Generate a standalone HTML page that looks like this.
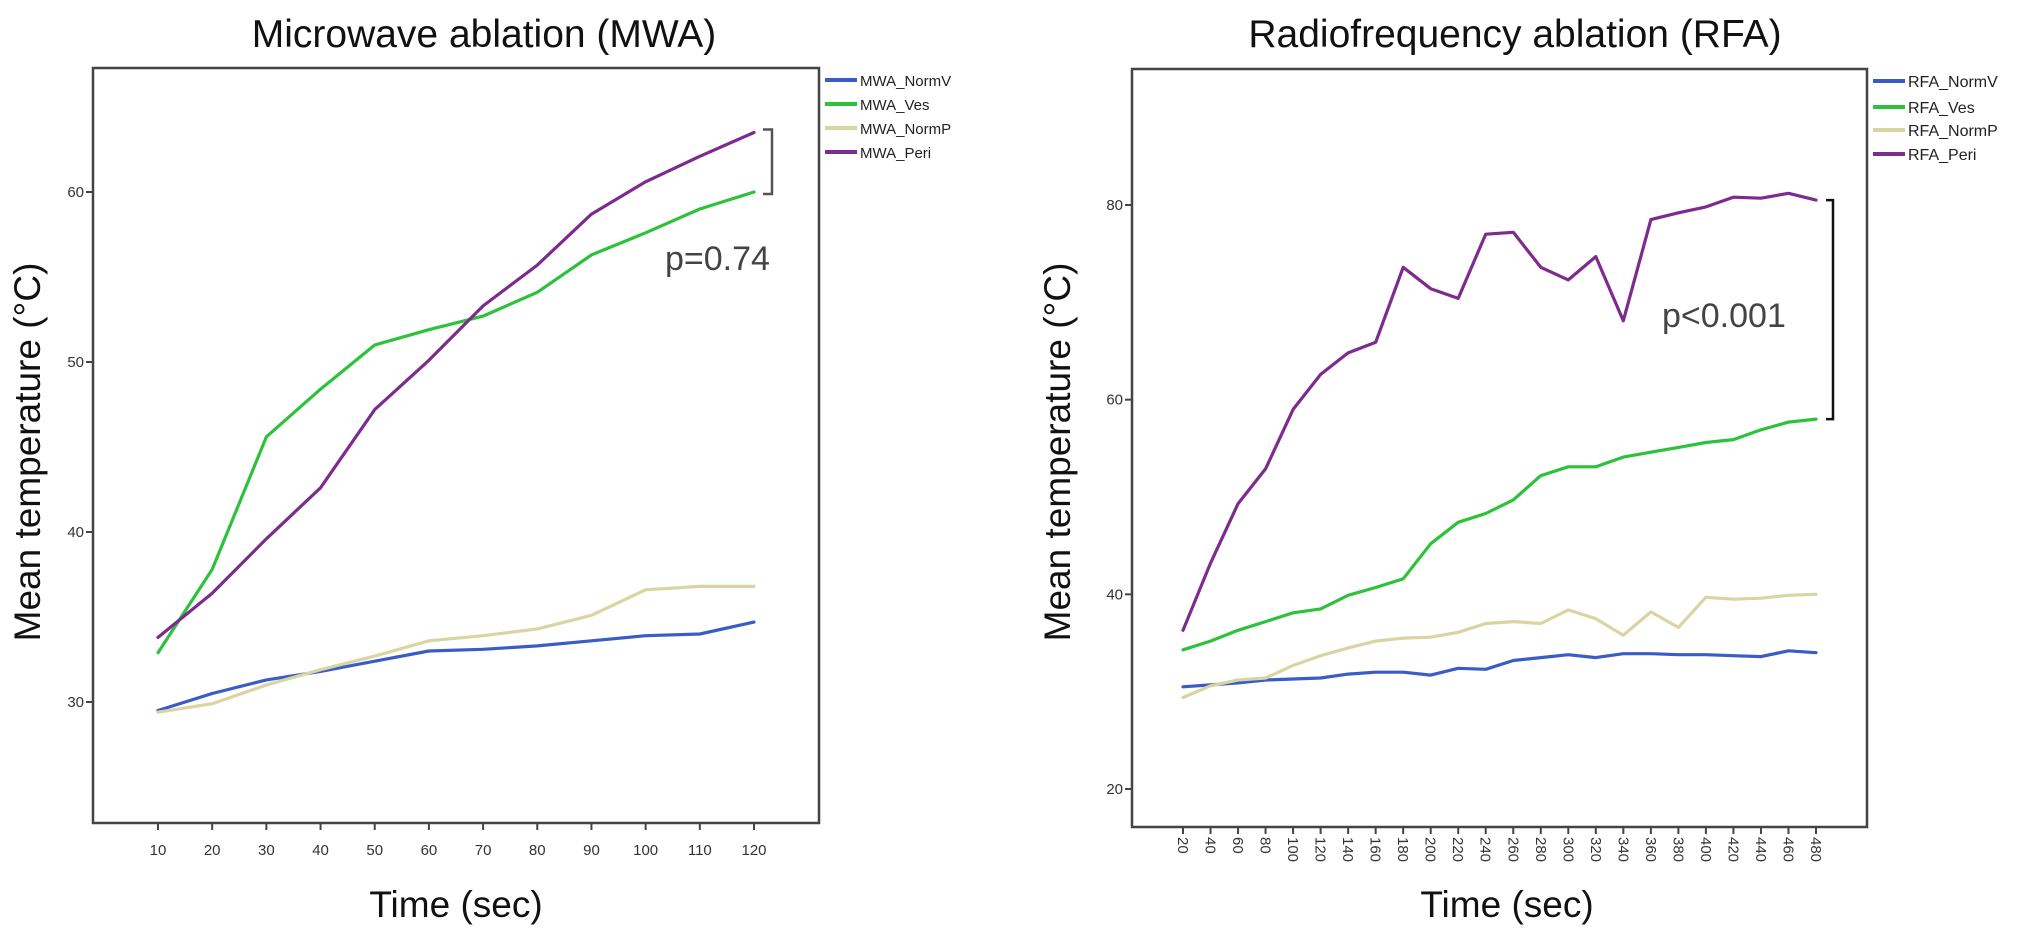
<!DOCTYPE html>
<html><head><meta charset="utf-8"><style>
html,body{margin:0;padding:0;background:#fff;}
svg{display:block;}
text{font-family:"Liberation Sans",Arial,sans-serif;}
</style></head><body>
<svg id="fig" width="2031" height="938" viewBox="0 0 2031 938" xmlns="http://www.w3.org/2000/svg"></svg>
<script>
// ---- MWA data ----
const mwaTimes = [10,20,30,40,50,60,70,80,90,100,110,120];
const mwaNormV = [29.5,30.5,31.3,31.8,32.4,33.0,33.1,33.3,33.6,33.9,34.0,34.7];
const mwaVes   = [32.9,37.8,45.6,48.4,51.0,51.9,52.7,54.1,56.3,57.6,59.0,60.0];
const mwaNormP = [29.4,29.9,31.0,31.9,32.7,33.6,33.9,34.3,35.1,36.6,36.8,36.8];
const mwaPeri  = [33.8,36.4,39.6,42.6,47.2,50.1,53.3,55.7,58.7,60.6,62.1,63.5];
const mwaYTicks = [30,40,50,60];
// ---- RFA data ----
const rfaTimes = [20,40,60,80,100,120,140,160,180,200,220,240,260,280,300,320,340,360,380,400,420,440,460,480];
const rfaNormV = [30.5,30.7,30.9,31.2,31.3,31.4,31.8,32.0,32.0,31.7,32.4,32.3,33.2,33.5,33.8,33.5,33.9,33.9,33.8,33.8,33.7,33.6,34.2,34.0];
const rfaVes   = [34.3,35.2,36.3,37.2,38.1,38.5,39.9,40.7,41.6,45.2,47.4,48.3,49.7,52.2,53.1,53.1,54.1,54.6,55.1,55.6,55.9,56.9,57.7,58.0];
const rfaNormP = [29.4,30.6,31.2,31.4,32.7,33.7,34.5,35.2,35.5,35.6,36.1,37.0,37.2,37.0,38.4,37.5,35.8,38.2,36.6,39.7,39.5,39.6,39.9,40.0];
const rfaPeri  = [36.3,43.2,49.3,52.9,59.0,62.6,64.8,65.9,73.6,71.4,70.4,77.0,77.2,73.6,72.3,74.7,68.1,78.5,79.2,79.8,80.8,80.7,81.2,80.5];
const rfaYTicks = [20,40,60,80];

const NS="http://www.w3.org/2000/svg";
const svg=document.getElementById('fig');
function mk(tag,attrs,parent){const e=document.createElementNS(NS,tag);for(const k in attrs)e.setAttribute(k,attrs[k]);(parent||svg).appendChild(e);return e;}
const colors={NormV:'#3a5cc8',Ves:'#2ec23c',NormP:'#d9d5a3',Peri:'#7d2b8c'};

function chart(cfg){
  const g=mk('g',{});
  
  
  const xs=v=>cfg.x0+(v-cfg.xv0)*(cfg.x1-cfg.x0)/(cfg.xv1-cfg.xv0);
  const ys=v=>cfg.y0+(v-cfg.yv0)*(cfg.y1-cfg.y0)/(cfg.yv1-cfg.yv0);
  const t=mk('text',{x:cfg.titleX,y:47,'font-size':39,'text-anchor':'middle',fill:'#111'},g);
  t.textContent=cfg.title;
  
  
  const box=mk('rect',{x:cfg.bx0,y:cfg.by0,width:cfg.bx1-cfg.bx0,height:cfg.by1-cfg.by0,fill:'none',stroke:'#444','stroke-width':2.5},g);
  
  
  cfg.yTicks.forEach(v=>{
    const y=ys(v);
    const tk=mk('line',{x1:cfg.bx0-7,x2:cfg.bx0,y1:y,y2:y,stroke:'#444','stroke-width':2},g);
    
    
    const tl=mk('text',{x:cfg.bx0-9,y:y+5,'font-size':15,'text-anchor':'end',fill:'#333'},g);
    tl.textContent=v;
    
    
  });
  cfg.times.forEach(v=>{
    const x=xs(v);
    const tk=mk('line',{x1:x,x2:x,y1:cfg.by1,y2:cfg.by1+7,stroke:'#444','stroke-width':2},g);
    
    
    let tl;
    if(cfg.rot){
      tl=mk('text',{x:0,y:0,'font-size':15,'text-anchor':'start',fill:'#333',transform:`translate(${x-5},${cfg.by1+10}) rotate(90)`},g);
    } else {
      tl=mk('text',{x:x,y:cfg.by1+32,'font-size':15,'text-anchor':'middle',fill:'#333'},g);
    }
    tl.textContent=v;
    
    
  });
  const yt=mk('text',{x:0,y:0,'font-size':37,'text-anchor':'middle',fill:'#111',transform:`translate(${cfg.ytX},${cfg.ytY}) rotate(-90)`},g);
  yt.textContent='Mean temperature (°C)';
  
  
  const xt=mk('text',{x:cfg.xtX,y:917,'font-size':37,'text-anchor':'middle',fill:'#111'},g);
  xt.textContent='Time (sec)';
  
  
  cfg.series.forEach((s,i)=>{
    const pts=cfg.times.map((tv,j)=>xs(tv).toFixed(1)+','+ys(s.vals[j]).toFixed(1)).join(' ');
    const pl=mk('polyline',{points:pts,fill:'none',stroke:colors[s.key],'stroke-width':3.2,'stroke-linejoin':'round','stroke-linecap':'round'},g);
    
    
    const ly=cfg.legY[i];
    const ll=mk('line',{x1:cfg.legX,x2:cfg.legX+32,y1:ly,y2:ly,stroke:colors[s.key],'stroke-width':4},g);
    
    
    const lt=mk('text',{x:cfg.legX+35,y:ly+6,'font-size':cfg.legFont,fill:'#222'},g);
    lt.textContent=s.name;
    
    
  });
  return {xs,ys,g};
}

const L=chart({id:'mwa',title:'Microwave ablation (MWA)',titleX:484,
  bx0:93,by0:68,bx1:819,by1:823,
  x0:158,x1:754,xv0:10,xv1:120,y0:702,y1:192,yv0:30,yv1:60,
  times:mwaTimes,yTicks:mwaYTicks,rot:false,ytX:40,ytY:452,xtX:456,
  legX:825,legY:[80,104,128,152],legFont:15,
  series:[{key:'NormV',name:'MWA_NormV',vals:mwaNormV},{key:'Ves',name:'MWA_Ves',vals:mwaVes},{key:'NormP',name:'MWA_NormP',vals:mwaNormP},{key:'Peri',name:'MWA_Peri',vals:mwaPeri}]});
const R=chart({id:'rfa',title:'Radiofrequency ablation (RFA)',titleX:1515,
  bx0:1132,by0:69,bx1:1867,by1:827,
  x0:1183,x1:1816,xv0:20,xv1:480,y0:789,y1:205,yv0:20,yv1:80,
  times:rfaTimes,yTicks:rfaYTicks,rot:true,ytX:1070,ytY:452,xtX:1507,
  legX:1873,legY:[81,107,130,154],legFont:16,
  series:[{key:'NormV',name:'RFA_NormV',vals:rfaNormV},{key:'Ves',name:'RFA_Ves',vals:rfaVes},{key:'NormP',name:'RFA_NormP',vals:rfaNormP},{key:'Peri',name:'RFA_Peri',vals:rfaPeri}]});

// brackets & p-values
const yA=L.ys(mwaPeri[mwaPeri.length-1]), yB=L.ys(mwaVes[mwaVes.length-1]);
const b1=mk('path',{d:`M763,${yA-3} H772 V${yB+2} H763`,fill:'none',stroke:'#555','stroke-width':2.5});


const p1=mk('text',{x:665,y:270,'font-size':34,fill:'#444'});
p1.textContent='p=0.74';


const yC=R.ys(rfaPeri[rfaPeri.length-1]), yD=R.ys(rfaVes[rfaVes.length-1]);
const b2=mk('path',{d:`M1826,${yC} H1833 V${yD} H1826`,fill:'none',stroke:'#111','stroke-width':2.5});


const p2=mk('text',{x:1662,y:327,'font-size':34,fill:'#444'});
p2.textContent='p<0.001';


</script>
</body></html>
